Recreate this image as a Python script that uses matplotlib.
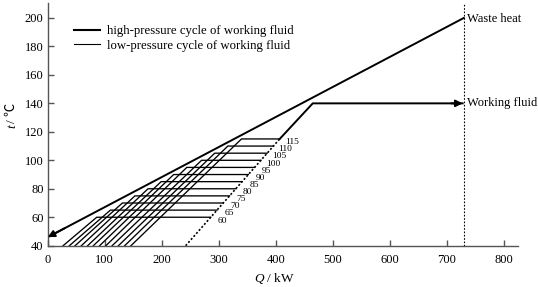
import matplotlib
matplotlib.use("Agg")
import matplotlib.pyplot as plt
from matplotlib.lines import Line2D

plt.rcParams['font.family'] = ['Liberation Serif', 'Noto Sans CJK SC', 'DejaVu Serif']
plt.rcParams['mathtext.fontset'] = 'custom'
plt.rcParams['mathtext.it'] = 'Liberation Serif:italic'
plt.rcParams['mathtext.rm'] = 'Liberation Serif'

# waste heat line (Q in kW, T in degC)
waste_Q = [730, 0]
waste_T = [200, 46]

# high-pressure working fluid: dashed preheat, then solid
hp_dash_Q = [242, 407]
hp_dash_T = [40, 115]
hp_Q = [407, 465, 728]
hp_T = [115, 140, 140]

# low-pressure cycles
lp_T = [60, 65, 70, 75, 80, 85, 90, 95, 100, 105, 110, 115]
lp_Q_start = [27, 38, 48, 59, 70, 80, 91, 102, 113, 124, 135, 146]
lp_Q_knee = [86, 110, 131, 153, 176, 199, 221, 244, 270, 293, 316, 340]
lp_Q_end = [286, 297, 308, 319, 330, 341, 352, 363, 374, 385, 396, 407]
lp_labels = [str(t) for t in lp_T]

x_ticks = [0, 100, 200, 300, 400, 500, 600, 700, 800]
y_ticks = [40, 60, 80, 100, 120, 140, 160, 180, 200]
Q_heat_end = 730

fig = plt.figure(figsize=(5.38, 2.87), dpi=100)
ax = fig.add_axes([0.0887, 0.1439, 0.874, 0.8456])

for qs, qk, qe, t in zip(lp_Q_start, lp_Q_knee, lp_Q_end, lp_T):
    ax.plot([qs, qk, qe], [lp_T[0] - 20, t, t], color='black', lw=0.95, solid_joinstyle='miter')

for qe, t, lab in zip(lp_Q_end, lp_T, lp_labels):
    ax.text(qe + 21, t - 2.3, lab, fontsize=6.8, ha='center', va='center')

ax.plot(hp_dash_Q, hp_dash_T, color='black', lw=1.2, linestyle=(0, (1.2, 1.2)))
ax.plot(hp_Q, hp_T, color='black', lw=1.4)
ax.annotate('', xy=(hp_Q[-1], hp_T[-1]), xytext=(hp_Q[-1] - 20, hp_T[-1]),
            arrowprops=dict(arrowstyle='-|>', color='black', lw=1.4, mutation_scale=10,
                            shrinkA=0, shrinkB=0))

ax.plot(waste_Q, waste_T, color='black', lw=1.4)
ax.annotate('', xy=(waste_Q[-1], waste_T[-1]),
            xytext=(waste_Q[-1] + 30, waste_T[-1] + 30 * (waste_T[0] - waste_T[1]) / (waste_Q[0] - waste_Q[1])),
            arrowprops=dict(arrowstyle='-|>', color='black', lw=1.4, mutation_scale=10,
                            shrinkA=0, shrinkB=0))

ax.axvline(Q_heat_end, color='black', lw=0.8, linestyle=(0, (1.5, 1.5)))

ax.text(736, 199, 'Waste heat', fontsize=9, ha='left', va='center')
ax.text(736, 140.5, 'Working fluid', fontsize=9, ha='left', va='center')

ax.set_xlim(0, 825)
ax.set_ylim(40, 210.5)
ax.set_xticks(x_ticks)
ax.set_yticks(y_ticks)
for s in ['top', 'right']:
    ax.spines[s].set_visible(False)
for s in ['left', 'bottom']:
    ax.spines[s].set_color('#555555')
    ax.spines[s].set_linewidth(1.0)
ax.tick_params(direction='in', length=4.5, width=1.0, color='#555555', labelsize=9)
ax.tick_params(axis='x', pad=6)
ax.tick_params(axis='y', pad=3)

ax.set_xlabel(r'$Q$ / kW', fontsize=9.5)
ax.xaxis.set_label_coords(0.483, -0.103)

# y label: italic t, then " / ℃"
fig.text(12 / 538, 1 - 126 / 287, 't', fontsize=9.5, style='italic', rotation=90,
         ha='center', va='center')
fig.text(12 / 538, 1 - 113 / 287, '/ ℃', fontsize=9.5, rotation=90,
         ha='center', va='center')

handles = [Line2D([], [], color='black', lw=1.5), Line2D([], [], color='black', lw=0.8)]
ax.legend(handles, ['high-pressure cycle of working fluid', 'low-pressure cycle of working fluid'],
          loc='upper left', bbox_to_anchor=(0.045, 0.93), frameon=False, fontsize=9.2,
          handlelength=2.0, handletextpad=0.6, labelspacing=0.2, borderaxespad=0)

fig.savefig('out.png', dpi=100)
